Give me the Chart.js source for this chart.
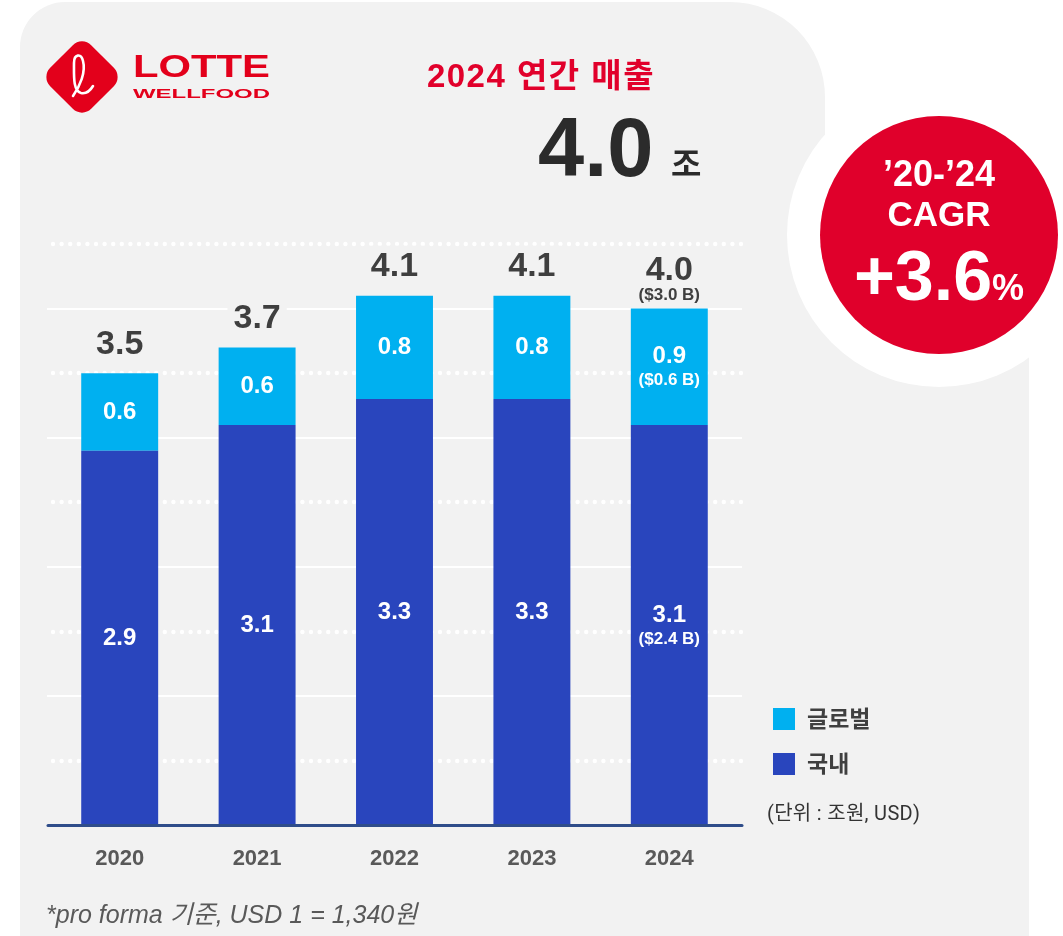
<!DOCTYPE html>
<html lang="ko">
<head>
<meta charset="utf-8">
<script src="https://cdn.jsdelivr.net/npm/chart.js@4.4.1/dist/chart.umd.min.js"></script>
<style>
  html, body { margin: 0; padding: 0; background: #fff; }
  body { width: 1063px; height: 936px; position: relative; overflow: hidden;
         font-family: "Liberation Sans", "Noto Sans CJK KR", sans-serif; }
  #wrap { position: absolute; left: 0; top: 0; width: 1063px; height: 936px; }
  .abs { position: absolute; white-space: nowrap; }
  #title { left: 0; width: 1082px; top: 49px; text-align: center; color: #e1002b; letter-spacing: 1.5px;
           font: bold 33px "Liberation Sans", "Noto Sans CJK KR", sans-serif; }
  #big { left: 538px; top: 100px; color: #2b2b2b; font: bold 83px "Liberation Sans", sans-serif; }
  #jo { left: 671px; top: 138px; color: #2b2b2b; font: bold 33px "Noto Sans CJK KR", sans-serif; }
  #cagr { left: 820px; top: 116px; width: 238px; height: 238px; border-radius: 50%;
          background: #e0002b; color: #fff; font-family: "Liberation Sans", sans-serif; font-weight: bold; }
  #cagr div { position: absolute; left: 0; width: 100%; text-align: center; }
  .leg { font: bold 23px "Noto Sans CJK KR", sans-serif; color: #3f3f3f; }
  .sw { position: absolute; width: 22px; height: 22px; }
  #unit { left: 767px; top: 797px; font: 20px Roboto, "Noto Sans CJK KR", sans-serif; letter-spacing: 0.3px; color: #333; }
  #note { left: 46px; top: 894px; font: italic 25px "Liberation Sans", "Noto Sans CJK KR", sans-serif; color: #595959; }
</style>
</head>
<body>
<div id="wrap"><canvas id="chart"></canvas></div>

<!-- logo -->
<svg class="abs" style="left:0;top:0" width="300" height="130">
  <rect x="53" y="48" width="58" height="58" rx="13" ry="13" fill="#e3001b" transform="rotate(45 82 77)"/>
  <path d="M73 96 C80 86, 86 72, 83 61 C81 53, 74 54, 74 63 C74 76, 73 91, 81 93 C86 94, 90 91, 93 86"
        fill="none" stroke="#fff" stroke-width="2.6" stroke-linecap="round"/>
  <text x="133" y="77" fill="#e3001b" font-family="Liberation Sans" font-weight="bold" font-size="31"
        textLength="137" lengthAdjust="spacingAndGlyphs">LOTTE</text>
  <text x="133" y="98" fill="#e3001b" font-family="Liberation Sans" font-weight="bold" font-size="12.5"
        textLength="137" lengthAdjust="spacingAndGlyphs">WELLFOOD</text>
</svg>

<div id="title" class="abs">2024 연간 매출</div>
<div id="big" class="abs">4.0</div>
<div id="jo" class="abs">조</div>

<div id="cagr" class="abs">
  <div style="top:37px;font-size:36px;">’20-’24</div>
  <div style="top:78px;font-size:35px;">CAGR</div>
  <div style="top:120px;font-size:70px;">+3.6<span style="font-size:36px;">%</span></div>
</div>

<div class="sw" style="left:773px;top:708px;background:#00b0f0;"></div>
<div class="abs leg" style="left:807px;top:700px;">글로벌</div>
<div class="sw" style="left:773px;top:753px;background:#2945bd;"></div>
<div class="abs leg" style="left:807px;top:745px;">국내</div>
<div id="unit" class="abs">(단위 : 조원, USD)</div>
<div id="note" class="abs">*pro forma 기준, USD 1 = 1,340원</div>

<script>
// data
const years = ['2020', '2021', '2022', '2023', '2024'];
const domestic = [2.9, 3.1, 3.3, 3.3, 3.1];
const global = [0.6, 0.6, 0.8, 0.8, 0.9];
const totals = [3.5, 3.7, 4.1, 4.1, 4.0];
const usdDomestic = [null, null, null, null, '($2.4 B)'];
const usdGlobal = [null, null, null, null, '($0.6 B)'];
const usdTotal = [null, null, null, null, '($3.0 B)'];

const PANEL = '#f2f2f2';
const NUM_FONT = '"Liberation Sans", Arial, sans-serif';

// gray panel with a white bite around the CAGR circle
const panelBg = {
    id: 'panelBg',
    beforeDraw(chart) {
        const ctx = chart.ctx;
        ctx.save();
        ctx.fillStyle = PANEL;
        ctx.beginPath();
        ctx.moveTo(20, 936);
        ctx.lineTo(20, 47);
        ctx.arcTo(20, 2, 65, 2, 45);
        ctx.lineTo(730, 2);
        ctx.arcTo(825, 2, 825, 97, 95);
        ctx.lineTo(825, 240);
        ctx.lineTo(1029, 240);
        ctx.lineTo(1029, 936);
        ctx.closePath();
        ctx.fill();
        ctx.fillStyle = '#fff';
        ctx.beginPath();
        ctx.arc(939, 235, 152, 0, Math.PI * 2);
        ctx.fill();
        ctx.restore();
    }
};

// solid lines on whole units, dotted lines on the halves
const gridLines = {
    id: 'gridLines',
    beforeDatasetsDraw(chart) {
        const ctx = chart.ctx;
        const y = chart.scales.y;
        const left = chart.chartArea.left - 4, right = chart.chartArea.right + 4;
        ctx.save();
        ctx.fillStyle = '#fff';
        ctx.strokeStyle = '#fff';
        y.ticks.forEach(t => {
            if (t.value <= 0) return;
            const py = Math.round(y.getPixelForValue(t.value));
            if (Number.isInteger(t.value)) {
                ctx.lineWidth = 2;
                ctx.beginPath();
                ctx.moveTo(left, py);
                ctx.lineTo(right, py);
                ctx.stroke();
            } else {
                for (let x = left + 6; x <= right; x += 8.6) {
                    ctx.beginPath();
                    ctx.arc(x, py, 2.2, 0, Math.PI * 2);
                    ctx.fill();
                }
            }
        });
        ctx.restore();
    }
};

const barLabels = {
    id: 'barLabels',
    afterDatasetsDraw(chart) {
        const ctx = chart.ctx;
        const area = chart.chartArea;
        const metaDom = chart.getDatasetMeta(0);
        const metaGlo = chart.getDatasetMeta(1);
        ctx.save();
        ctx.textAlign = 'center';
        ctx.textBaseline = 'middle';

        // axis base line
        ctx.strokeStyle = '#2f4d8a';
        ctx.lineWidth = 3;
        ctx.lineCap = 'round';
        ctx.beginPath();
        ctx.moveTo(area.left - 3, area.bottom);
        ctx.lineTo(area.right + 4, area.bottom);
        ctx.stroke();

        function inside(bar, text, sub) {
            const mid = (bar.y + bar.base) / 2;
            ctx.fillStyle = '#fff';
            if (sub) {
                ctx.font = 'bold 24px ' + NUM_FONT;
                ctx.fillText(text, bar.x, mid - 10);
                ctx.font = 'bold 17px ' + NUM_FONT;
                ctx.fillText(sub, bar.x, mid + 14);
            } else {
                ctx.font = 'bold 24px ' + NUM_FONT;
                ctx.fillText(text, bar.x, mid);
            }
        }

        years.forEach((yr, i) => {
            const d = metaDom.data[i], g = metaGlo.data[i];
            inside(d, domestic[i].toFixed(1), usdDomestic[i]);
            inside(g, global[i].toFixed(1), usdGlobal[i]);

            // total above the stack
            const top = g.y;
            const txt = totals[i].toFixed(1);
            ctx.font = 'bold 34px ' + NUM_FONT;
            const w = ctx.measureText(txt).width;
            if (usdTotal[i]) {
                ctx.fillStyle = PANEL;
                ctx.fillRect(g.x - w / 2 - 4, top - 58, w + 8, 40);
                ctx.fillStyle = '#3f3f3f';
                ctx.fillText(txt, g.x, top - 38);
                ctx.font = 'bold 17px ' + NUM_FONT;
                ctx.fillText(usdTotal[i], g.x, top - 13);
            } else {
                ctx.fillStyle = PANEL;
                ctx.fillRect(g.x - w / 2 - 6, top - 50, w + 12, 44);
                ctx.fillStyle = '#3f3f3f';
                ctx.fillText(txt, g.x, top - 29);
            }
        });
        ctx.restore();
    }
};

new Chart(document.getElementById('chart'), {
    type: 'bar',
    data: {
        labels: years,
        datasets: [
            { label: '국내', data: domestic, backgroundColor: '#2945bd' },
            { label: '글로벌', data: global, backgroundColor: '#00b0f0' }
        ]
    },
    options: {
        responsive: true,
        maintainAspectRatio: false,
        animation: false,
        events: [],
        layout: { padding: { left: 51, right: 325, top: 244, bottom: 44 } },
        datasets: { bar: { categoryPercentage: 1, barPercentage: 0.56, borderWidth: 0 } },
        scales: {
            x: {
                stacked: true,
                grid: { display: false, drawTicks: false },
                border: { display: false },
                ticks: { color: '#595959', padding: 20, font: { family: NUM_FONT, size: 22, weight: 'bold' } }
            },
            y: {
                stacked: true,
                display: false,
                min: 0,
                max: 4.5,
                ticks: { stepSize: 0.5 }
            }
        },
        plugins: { legend: { display: false }, tooltip: { enabled: false } }
    },
    plugins: [panelBg, gridLines, barLabels]
});
</script>
</body>
</html>
